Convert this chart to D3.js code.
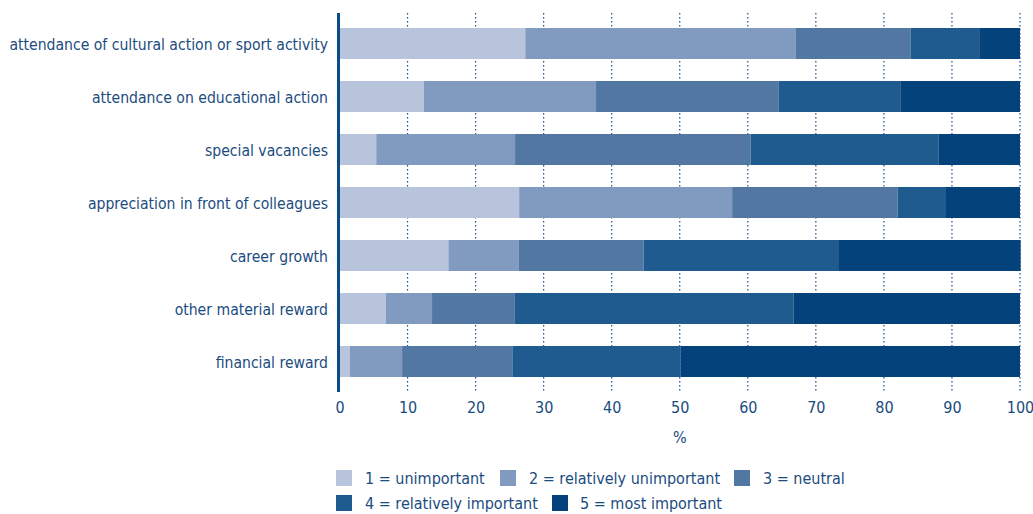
<!DOCTYPE html>
<html>
<head>
<meta charset="utf-8">
<script src="https://cdn.jsdelivr.net/npm/d3@7"></script>
<style>
  html, body { margin: 0; padding: 0; background: #fff; }
  svg text { font-family: "DejaVu Sans Condensed", "Liberation Sans Narrow", "Roboto", sans-serif; fill: #1b4c80; }
</style>
</head>
<body>
<svg id="chart" width="1033" height="514"></svg>
<script>
// Incentive items, top to bottom
const categories = [
  "attendance of cultural action or sport activity",
  "attendance on educational action",
  "special vacancies",
  "appreciation in front of colleagues",
  "career growth",
  "other material reward",
  "financial reward"
];

// Rating scale (legend order)
const ratings = [
  "1 = unimportant",
  "2 = relatively unimportant",
  "3 = neutral",
  "4 = relatively important",
  "5 = most important"
];

// Share of answers (%) per rating, one array per rating, aligned with categories
const unimportant           = [27.3, 12.4,  5.4, 26.4, 16.0,  6.8,  1.5];
const relativelyUnimportant = [39.7, 25.3, 20.4, 31.3, 10.3,  6.8,  7.7];
const neutral               = [16.9, 26.8, 34.6, 24.3, 18.4, 12.1, 16.2];
const relativelyImportant   = [10.1, 17.9, 27.6,  7.0, 28.7, 41.0, 24.7];
const mostImportant         = [ 6.0, 17.6, 12.0, 11.0, 26.7, 33.3, 49.9];

const xTicks = [0, 10, 20, 30, 40, 50, 60, 70, 80, 90, 100];
const colors = ["#b8c4dc", "#819bc0", "#5277a3", "#1f5b8e", "#03427a"];

const series = [unimportant, relativelyUnimportant, neutral, relativelyImportant, mostImportant];
const rows = categories.map((c, i) => {
  const r = { category: c };
  ratings.forEach((k, j) => { r[k] = series[j][i]; });
  return r;
});

const svg = d3.select("#chart");
const margin = { left: 339.5, right: 13, top: 17, bottom: 126 };
const W = 1033, H = 514;
const FS = "16px";

const x = d3.scaleLinear().domain([0, 100]).range([margin.left, W - margin.right]);
const y = d3.scaleBand().domain(categories).range([margin.top, H - margin.bottom]).paddingInner(0.415).paddingOuter(0.2075);

const stack = d3.stack().keys(ratings);
const layers = stack(rows);

// dotted vertical gridlines
const gridTop = 13, gridBottom = 392;
svg.append("g")
  .selectAll("line")
  .data(xTicks.slice(1))
  .join("line")
  .attr("x1", d => x(d)).attr("x2", d => x(d))
  .attr("y1", gridTop).attr("y2", gridBottom)
  .attr("stroke", "#1d4f86")
  .attr("stroke-width", 1.2)
  .attr("stroke-dasharray", "1.5,2.5");

// stacked bars
svg.append("g")
  .selectAll("g")
  .data(layers)
  .join("g")
  .attr("fill", (d, i) => colors[i])
  .selectAll("rect")
  .data(d => d)
  .join("rect")
  .attr("x", d => x(d[0]))
  .attr("width", d => x(d[1]) - x(d[0]))
  .attr("y", d => y(d.data.category))
  .attr("height", y.bandwidth());

// vertical axis line
svg.append("line")
  .attr("x1", 338.5).attr("x2", 338.5)
  .attr("y1", gridTop).attr("y2", gridBottom)
  .attr("stroke", "#0b4a85")
  .attr("stroke-width", 3);

// category labels
svg.append("g")
  .selectAll("text")
  .data(categories)
  .join("text")
  .attr("x", 328)
  .attr("y", d => y(d) + y.bandwidth() / 2 + 1.5)
  .attr("dy", "0.35em")
  .attr("text-anchor", "end")
  .style("font-size", "15.6px")
  .text(d => d);

// x axis tick labels
const xAxis = d3.axisBottom(x).tickValues(xTicks).tickSize(0).tickPadding(0);
const gx = svg.append("g").attr("transform", `translate(0, 402)`).call(xAxis);
gx.select(".domain").remove();
gx.selectAll("text")
  .attr("dy", "0.71em")
  .style("font-size", FS)
  .style("fill", "#1b4c80");

svg.append("text")
  .attr("x", x(50)).attr("y", 437)
  .attr("dy", "0.35em")
  .attr("text-anchor", "middle")
  .style("font-size", FS)
  .text("%");

// legend
const legendPos = [
  { sx: 336, tx: 365, y: 470 },
  { sx: 500, tx: 529, y: 470 },
  { sx: 734, tx: 763, y: 470 },
  { sx: 336, tx: 365, y: 495 },
  { sx: 552, tx: 580, y: 495 }
];
const lg = svg.append("g")
  .selectAll("g")
  .data(ratings)
  .join("g");
lg.append("rect")
  .attr("x", (d, i) => legendPos[i].sx)
  .attr("y", (d, i) => legendPos[i].y)
  .attr("width", 16).attr("height", 16)
  .attr("fill", (d, i) => colors[i]);
lg.append("text")
  .attr("x", (d, i) => legendPos[i].tx)
  .attr("y", (d, i) => legendPos[i].y + 8)
  .attr("dy", "0.35em")
  .style("font-size", FS)
  .text(d => d);
</script>
</body>
</html>
